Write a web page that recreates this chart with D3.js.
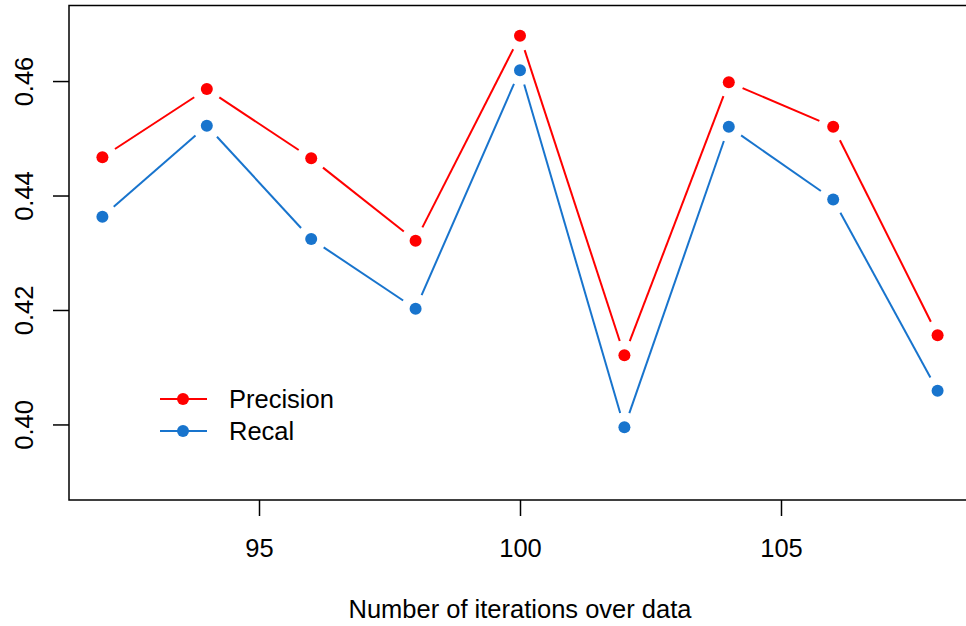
<!DOCTYPE html>
<html>
<head>
<meta charset="utf-8">
<script src="https://cdn.jsdelivr.net/npm/d3@7/dist/d3.min.js"></script>
<style>
  html, body { margin: 0; padding: 0; background: #fff; }
  svg { display: block; }
  text { font-family: "Liberation Sans", Arial, Helvetica, sans-serif; fill: #000; }
</style>
</head>
<body>
<svg id="chart" width="966" height="626"></svg>
<script>
// ---- data ----
const iterations = [92, 94, 96, 98, 100, 102, 104, 106, 108];
const precision  = [0.4467, 0.4586, 0.4465, 0.4321, 0.4679, 0.4121, 0.4598, 0.4520, 0.4156];
const recall     = [0.4363, 0.4522, 0.4324, 0.4202, 0.4619, 0.3995, 0.4520, 0.4393, 0.4059];
const xTicks = [95, 100, 105];
const yTicks = [0.40, 0.42, 0.44, 0.46];
const seriesNames = ["Precision", "Recal"];
const xLabel = "Number of iterations over data";

(function () {
// ---- layout ----
const W = 966, H = 626;
const pLeft = 69, pRight = 971, pTop = 5.5, pBottom = 500;
const FS = 25.5;
const colors = ["#FF0000", "#1874CD"];

const svg = d3.select("#chart");

const x = d3.scaleLinear().domain([91.36, 108.64]).range([pLeft, pRight]);
const y = d3.scaleLinear().domain([0.3868, 0.4732]).range([pBottom, pTop]);

// ---- box ----
svg.append("rect")
  .attr("x", pLeft).attr("y", pTop)
  .attr("width", pRight - pLeft).attr("height", pBottom - pTop)
  .attr("fill", "none").attr("stroke", "#000").attr("stroke-width", 1.5);

// ---- x axis ----
const gx = svg.append("g").attr("transform", `translate(0,${pBottom})`)
  .call(d3.axisBottom(x).tickValues(xTicks).tickSize(16).tickFormat(d3.format("d")));
gx.select(".domain").remove();
gx.selectAll(".tick line").attr("stroke", "#000").attr("stroke-width", 1.5);
gx.selectAll(".tick text")
  .attr("y", 57).attr("dy", null)
  .style("font-size", FS + "px").style("font-family", '"Liberation Sans", Arial, sans-serif')
  .attr("fill", "#000");

// ---- y axis ----
const gy = svg.append("g").attr("transform", `translate(${pLeft},0)`)
  .call(d3.axisLeft(y).tickValues(yTicks).tickSize(16).tickFormat(d3.format(".2f")));
gy.select(".domain").remove();
gy.selectAll(".tick line").attr("stroke", "#000").attr("stroke-width", 1.5);
gy.selectAll(".tick text")
  .attr("x", null).attr("dy", null)
  .attr("transform", "translate(-36,0) rotate(-90)")
  .attr("text-anchor", "middle")
  .style("font-size", FS + "px").style("font-family", '"Liberation Sans", Arial, sans-serif')
  .attr("fill", "#000");

// ---- x label ----
svg.append("text")
  .attr("x", x(100)).attr("y", 618)
  .attr("text-anchor", "middle")
  .style("font-size", FS + "px")
  .text(xLabel);

// ---- series (type "b": points with gapped lines) ----
const gap = 15;
const series = [precision, recall];
series.forEach((vals, si) => {
  const pts = iterations.map((it, i) => [x(it), y(vals[i])]);
  const segs = d3.pairs(pts).map(([a, b]) => {
    const dx = b[0] - a[0], dy = b[1] - a[1];
    const len = Math.hypot(dx, dy);
    const ux = dx / len, uy = dy / len;
    return [a[0] + ux * gap, a[1] + uy * gap, b[0] - ux * gap, b[1] - uy * gap, len];
  }).filter(s => s[4] > 2 * gap);
  const g = svg.append("g");
  g.selectAll("line").data(segs).join("line")
    .attr("x1", d => d[0]).attr("y1", d => d[1])
    .attr("x2", d => d[2]).attr("y2", d => d[3])
    .attr("stroke", colors[si]).attr("stroke-width", 2);
  g.selectAll("circle").data(pts).join("circle")
    .attr("cx", d => d[0]).attr("cy", d => d[1]).attr("r", 6)
    .attr("fill", colors[si]);
});

// ---- legend ----
const legRows = [399, 431];
seriesNames.forEach((name, i) => {
  const g = svg.append("g");
  g.append("line").attr("x1", 160).attr("x2", 207)
    .attr("y1", legRows[i]).attr("y2", legRows[i])
    .attr("stroke", colors[i]).attr("stroke-width", 2);
  g.append("circle").attr("cx", 183).attr("cy", legRows[i]).attr("r", 6).attr("fill", colors[i]);
  g.append("text").attr("x", 229).attr("y", legRows[i] + 9)
    .style("font-size", FS + "px").text(name);
});
})();
</script>
</body>
</html>
